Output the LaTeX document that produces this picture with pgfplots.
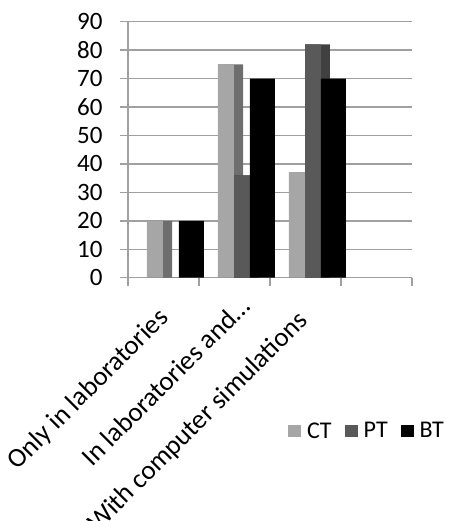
\documentclass[border=0pt]{standalone}
\usepackage{fontspec}
\setmainfont{Carlito}
\usepackage{pgfplots}
\pgfplotsset{compat=1.18}
\definecolor{ctf}{HTML}{A6A6A6}
\definecolor{cts}{HTML}{6E6E6E}
\definecolor{ptf}{HTML}{595959}
\definecolor{pts}{HTML}{404040}
\definecolor{gridc}{HTML}{A0A0A0}
\begin{document}
\begin{tikzpicture}
\useasboundingbox (-128pt,-243.3pt) rectangle (336pt,277.7pt);
\begin{axis}[
  at={(0pt,0pt)}, anchor=south west,
  scale only axis, width=284pt, height=256pt,
  xmin=0, xmax=4, ymin=0, ymax=90,
  axis lines*=left,
  axis line style={gridc, line width=1.4pt},
  tick align=outside,
  major tick length=8pt, minor tick length=8pt,
  ytick={0,10,...,90},
  ymajorgrids, grid style={gridc, line width=1.4pt},
  ytick style={gridc, line width=1.4pt},
  xtick={0.5,1.5,2.5},
  xticklabels={{Only in laboratories\rule{19pt}{0pt}}, {In laboratories and\ldots\rule{3.9pt}{0pt}}, {With computer simulations\rule{23pt}{0pt}}},
  major x tick style={draw=none},
  minor xtick={0,1,2,3,4},
  minor x tick style={gridc, line width=1.4pt},
  /pgf/number format/assume math mode=true,
  yticklabel style={font=\fontsize{25}{29}\selectfont, text=black, xshift=-14pt},
  xticklabel style={font=\fontsize{27}{31}\selectfont, text=black, rotate=45, anchor=base east, inner sep=0pt, yshift=-28pt},
  legend style={draw=none, fill=none, inner sep=0pt, at={(0.563,-0.599)}, anchor=west,
    legend columns=3, font=\fontsize{24}{28}\selectfont,
    nodes={inner sep=0pt},
    /tikz/every odd column/.append style={column sep=6pt},
    /tikz/every even column/.append style={column sep=13pt}},
]
\addplot[ybar, bar width=0.352, bar shift=-0.056, fill=cts, draw=none, forget plot]
  coordinates {(0.5,20) (1.5,75) (2.5,37)};
\addplot[ybar, bar width=0.225, bar shift=-0.12, fill=ctf, draw=none,
  legend image code/.code={\fill[ctf] (0pt,-6pt) rectangle (13pt,6pt);}]
  coordinates {(0.5,20) (1.5,75) (2.5,37)};
\addlegendentry{CT}
\addplot[ybar, bar width=0.352, bar shift=0.169, fill=pts, draw=none, forget plot]
  coordinates {(0.5,0) (1.5,36) (2.5,82)};
\addplot[ybar, bar width=0.225, bar shift=0.1055, fill=ptf, draw=none,
  legend image code/.code={\fill[ptf] (0pt,-6pt) rectangle (13pt,6pt);}]
  coordinates {(0.5,0) (1.5,36) (2.5,82)};
\addlegendentry{PT}
\addplot[ybar, bar width=0.352, bar shift=0.394, fill=black, draw=none,
  legend image code/.code={\fill[black] (0pt,-6pt) rectangle (13pt,6pt);}]
  coordinates {(0.5,20) (1.5,70) (2.5,70)};
\addlegendentry{BT}
\end{axis}
\end{tikzpicture}
\end{document}
